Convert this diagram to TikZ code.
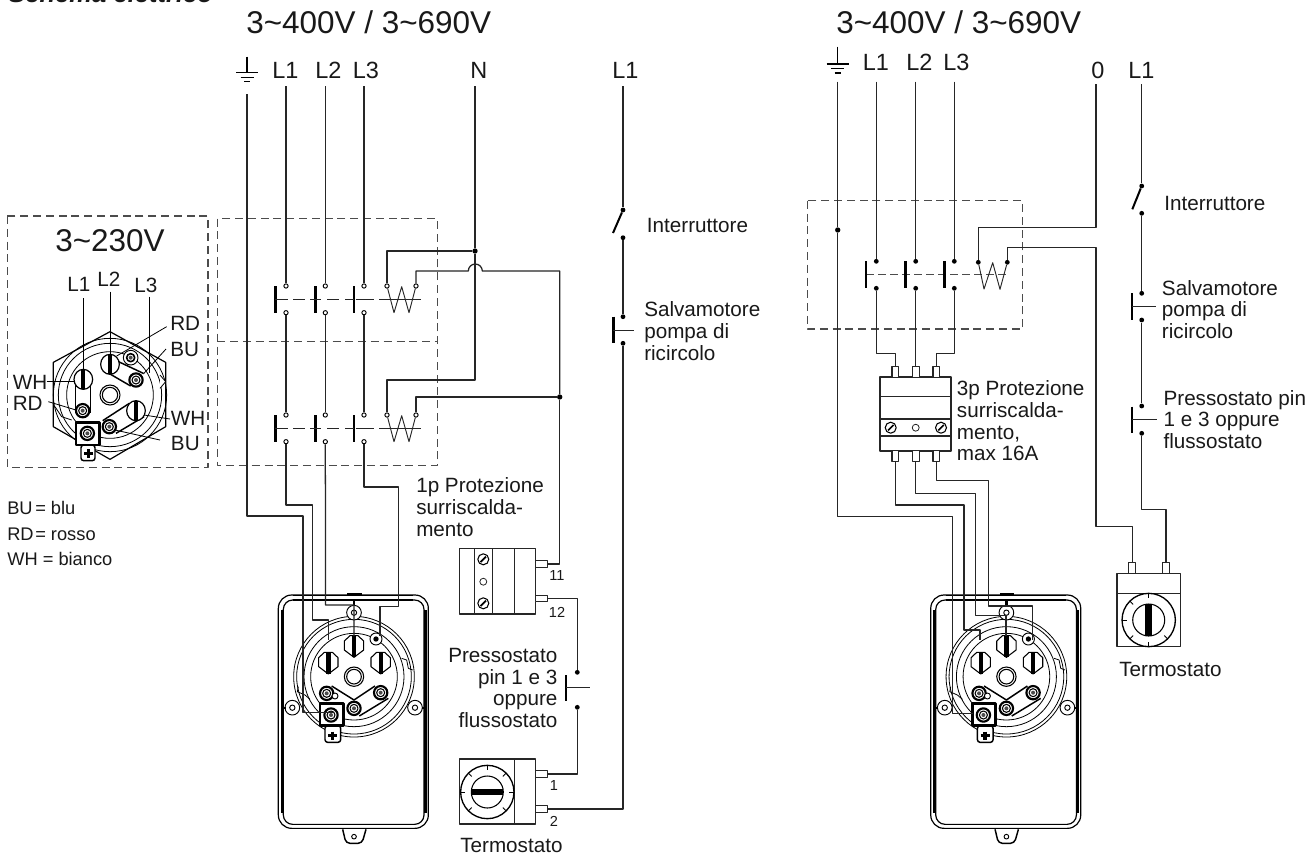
\documentclass[tikz,border=0pt]{standalone}
\usepackage{fontspec}
\setmainfont{Liberation Sans}
\tikzset{
  wire/.style={line width=.95pt,draw=black!85},
  thin wire/.style={line width=.7pt,draw=black!85},
  dashbox/.style={line width=.9pt,draw=black!70,dash pattern=on 6pt off 3.6pt},
  bar/.style={line width=1.8pt,draw=black},
  ring/.style={circle,draw=black,line width=.7pt,fill=white,inner sep=0,minimum size=3.2pt},
  sdot/.style={circle,fill=black,inner sep=0,minimum size=3.6pt},
  jdot/.style={circle,fill=black,inner sep=0,minimum size=4pt},
  lab/.style={font=\fontsize{15.5pt}{16.2pt}\selectfont,inner sep=0,text=black!90},
  big/.style={font=\fontsize{23.6pt}{26pt}\selectfont,inner sep=0,text=black!90},
  mid/.style={font=\fontsize{17.6pt}{20pt}\selectfont,inner sep=0,text=black!90},
  small/.style={font=\fontsize{10.9pt}{12pt}\selectfont,inner sep=0,text=black!90},
  leg/.style={font=\fontsize{13.7pt}{16pt}\selectfont,inner sep=0,text=black!90},
  ln/.style={line width=.6pt,draw=black},
  box/.style={line width=.9pt,draw=black!85,fill=white},
}
% earth symbol: stem top, wide line
\newcommand\earthsym[3]{% x, ytop, ywide
  \draw[line width=.8pt] (#1,#2) -- (#1,#3);
  \draw[line width=.8pt] (#1-11,#3) -- (#1+11,#3);
  \draw[line width=.8pt] (#1-6.5,#3+4.5) -- (#1+6.5,#3+4.5);
  \draw[line width=.8pt] (#1-3,#3+9) -- (#1+3,#3+9);
}
\newcommand\flatscrew[3]{% x y rotation-less slotted screw (px)
  \draw[line width=.8pt,fill=white] (#1,#2) circle[radius=#3];
  \draw[line width=1.2pt] (#1-#3*.5,#2+#3*.5) -- (#1+#3*.5,#2-#3*.5);
}
% row of three left-hand contacts with coil; names prefix#1, vertical shift #2
\newcommand\contactrow[2]{%
 \begin{scope}[shift={(0,#2)}]
  \node[ring] (#1a) at (286,286) {};
  \node[ring] (#1A) at (286,312.7) {};
  \node[ring] (#1b) at (325.3,286) {};
  \node[ring] (#1B) at (325.3,312.7) {};
  \node[ring] (#1c) at (364,286) {};
  \node[ring] (#1C) at (364,312.7) {};
  \node[ring] (#1d) at (387,286) {};
  \node[ring] (#1e) at (416,286) {};
  \draw[bar] (275.3,286) -- (275.3,312.7);
  \draw[bar] (315.3,286) -- (315.3,312.7);
  \draw[bar] (354,286) -- (354,312.7);
  \draw[thin wire] (275.3,299.3) -- (287.7,299.3) (293.3,299.3) -- (305,299.3)
     (310,299.3) -- (321,299.3) (327.3,299.3) -- (339,299.3)
     (345,299.3) -- (354,299.3) (355.7,299.3) -- (374,299.3) (379.3,299.3) -- (420.7,299.3);
  \draw[thin wire] (#1d) -- (394,312.7) -- (401.7,286.7) -- (409,312.7) -- (#1e);
 \end{scope}
}
% dial
\newcommand\dial[4]{% name x y ticks
  \node[circle,draw=black,line width=1pt,inner sep=0,minimum size=40pt] (#1) at (#2,#3) {};
  \draw[line width=.8pt] (#2,#3) circle[radius=16];
  \foreach \a in {#4} \draw[line width=.7pt] ([shift={(\a:27)}]#2,#3) -- ([shift={(\a:22)}]#2,#3);
}
% motor housing, in zoom units
\newcommand\bigterm[2]{%
 \begin{scope}[shift={(#1,#2)}]
  \draw[line width=.8pt,fill=white] (-29,-15) -- (-12,-31) -- (12,-31) -- (29,-15) -- (29,12) -- (0,34) -- (-29,12) -- cycle;
  \fill[black] (-6.5,-31) rectangle (6.5,33);
 \end{scope}
}
\newcommand\stud[2]{%
  \draw[line width=1.6pt,fill=white] (#1,#2) circle[radius=20];
  \draw[line width=.8pt,fill=white] (#1,#2) circle[radius=12];
  \fill[black!70] (#1,#2) circle[radius=6];
}
\newcommand\motor{%
  \draw[line width=.9pt,rounded corners=10pt] (55,105) rectangle (505,805);
  \draw[line width=.9pt,rounded corners=7pt] (70,120) rectangle (492,793);
  \draw[line width=1.8pt] (66,150) -- (66,760) (497,150) -- (497,760);
  \draw[line width=1.2pt] (100,106) -- (460,106) (100,120) -- (460,120) (100,793) -- (460,793) (100,805) -- (460,805);
  \draw[line width=2pt] (262,102) -- (305,102);
  \draw[line width=2pt] (282,120) -- (282,140);
  \foreach \r in {181,172,150,130} \draw[line width=.6pt] (282,350) circle[radius=\r];
  \draw[line width=.6pt] (115,380) -- (112,395) -- (135,405) -- (150,418);
  \draw[line width=.6pt] (425,295) -- (440,300) -- (445,325) -- (458,330);
  \foreach \p in {(282,158),(97,443),(465,443)} {
    \draw[line width=.7pt,fill=white] \p circle[radius=22];
    \draw[line width=.7pt,fill=white] \p circle[radius=8];
  }
  \draw[line width=1.6pt] (72,443) -- (78,443) (487,443) -- (497,443);
  \draw[line width=.8pt] (282,350) circle[radius=29];
  \draw[line width=.8pt] (282,350) circle[radius=22];
  \bigterm{205}{308}\bigterm{282}{258}\bigterm{362}{308}
  \draw[line width=.7pt,fill=white] (348,237) circle[radius=18];
  \fill[black] (348,237) circle[radius=8];
  \stud{200}{400}\stud{362}{398}
  \draw[line width=.7pt,fill=white] (225,408) circle[radius=9];
  \draw[line width=1.1pt] (215,378) -- (282,420) -- (345,378);
  \draw[line width=1.1pt] (298,468) -- (385,415);
  \stud{282}{445}
  \draw[line width=1.1pt,fill=white,rounded corners=2pt] (195,497) rectangle (242,547);
  \draw[line width=2pt,fill=white] (180,430) rectangle (250,497);
  \stud{213}{465}
  \draw[line width=2.4pt] (218,515) -- (218,541);
  \draw[line width=2.4pt] (205,527) -- (232,527);
  \draw[line width=1.1pt,rounded corners=3pt] (248,808) -- (258,850) -- (306,850) -- (318,808);
  \draw[line width=.7pt] (282,830) circle[radius=7];
}
\begin{document}
\begin{tikzpicture}[x=.75pt,y=-.75pt,line join=round]
\useasboundingbox (0,0) rectangle (1312,854);
\fill[white] (0,0) rectangle (1312,854);
% ---------- titles
\node[lab,anchor=base west,font=\fontsize{19.2pt}{20pt}\selectfont\bfseries\itshape] (schema) at (8,2.5) {Schema elettrico};
\node[big,anchor=base west] (t1) at (246,33) {3\char`~400V / 3\char`~690V};
\node[big,anchor=base west] (t2) at (836,33) {3\char`~400V / 3\char`~690V};
% ---------- left: inset
\draw[dashbox] (7.3,216) rectangle (208,467.3);
\node[big,anchor=base west] (t3) at (55,251.7) {3\char`~230V};
\begin{scope}[shift={(0,200)},x=.25pt,y=-.25pt]
  \draw[line width=.9pt] (330,395) -- (497,487) -- (497,680) -- (330,778) -- (160,680) -- (160,487) -- cycle;
  \foreach \r in {170,155,130} \draw[line width=.6pt] (330,585) circle[radius=\r];
  \draw[line width=.8pt] (330,585) circle[radius=30];
  \draw[line width=.8pt] (330,585) circle[radius=23];
  \draw[line width=.6pt,fill=white] (480,525) -- (497,545) -- (480,565);
  \draw[line width=.6pt] (165,620) -- (185,650) -- (215,660);
  \draw[line width=.7pt,fill=white] (392,473) circle[radius=22];
  \draw[line width=1.2pt,fill=white] (392,473) circle[radius=12];
  \fill[black!70] (392,473) circle[radius=6];
  % links
  \draw[line width=1.1pt] (226,545) -- (226,640) (272,545) -- (272,640);
  \draw[line width=1.1pt] (345,480) -- (430,520) (318,515) -- (392,558);
  \draw[line width=1.1pt] (388,610) -- (308,662) (432,650) -- (348,700);
  \foreach \p in {(250,538),(330,493),(408,632)} {
    \draw[line width=.9pt,fill=white] \p ellipse[x radius=28,y radius=30];
  }
  \fill[black] (244,508) rectangle (256,568);
  \fill[black] (324,463) rectangle (336,523);
  \fill[black] (402,602) rectangle (414,662);
  \stud{248}{632}\stud{408}{540}\stud{328}{680}
  \draw[line width=1.1pt,fill=white,rounded corners=2pt] (243,735) rectangle (285,782);
  \draw[line width=2pt,fill=white] (228,668) rectangle (298,735);
  \stud{262}{700}
  \draw[line width=2.4pt] (266,748) -- (266,775);
  \draw[line width=2.4pt] (252,760) -- (280,760);
  \coordinate (il1) at (250,295); \coordinate (il1e) at (250,510);
  \coordinate (il2) at (330,275); \coordinate (il2e) at (330,465);
  \coordinate (il3) at (448,290); \coordinate (il3e) at (448,518);
  \draw[ln] (il1) -- (il1e) (il2) -- (il2e) (il3) -- (il3e);
  \draw[ln] (500,380) -- (350,468);
  \draw[ln] (498,447) -- (430,522);
  \draw[ln] (140,545) -- (226,545);
  \draw[ln] (145,605) -- (228,630);
  \draw[ln] (510,657) -- (432,645);
  \draw[ln] (480,720) -- (345,690);
\end{scope}
\node[lab,anchor=base west] (iL1) at (67,291.7) {L1};
\node[lab,anchor=base west] (iL2) at (97,286) {L2};
\node[lab,anchor=base west] (iL3) at (134,292.3) {L3};
\node[lab,anchor=base west] (iRD1) at (170,330.7) {RD};
\node[lab,anchor=base west] (iBU1) at (170,356.7) {BU};
\node[lab,anchor=base west] (iWH1) at (12.5,389) {WH};
\node[lab,anchor=base west] (iRD2) at (12.5,410) {RD};
\node[lab,anchor=base west] (iWH2) at (170.7,425.7) {WH};
\node[lab,anchor=base west] (iBU2) at (170.7,450.7) {BU};
% legend
\node[leg,anchor=base west] (lg1) at (7,514) {BU};
\node[leg,anchor=base west] (lg1b) at (35,514) {= blu};
\node[leg,anchor=base west] (lg2) at (7,540) {RD};
\node[leg,anchor=base west] (lg2b) at (35,540) {= rosso};
\node[leg,anchor=base west] (lg3) at (7,565) {WH = bianco};
% ---------- left: supply
\earthsym{247}{56.7}{72.7}
\node[mid,anchor=base west] (aL1) at (272,78) {L1};
\node[mid,anchor=base west] (aL2) at (315,78) {L2};
\node[mid,anchor=base west] (aL3) at (352.5,78) {L3};
\node[mid,anchor=base west] (aN) at (470,78) {N};
\node[mid,anchor=base west] (aL4) at (612,78) {L1};
\coordinate (lE) at (247,94); \coordinate (lL1) at (286,86); \coordinate (lL2) at (325.3,86);
\coordinate (lL3) at (364,86); \coordinate (lN) at (475,86); \coordinate (lS) at (623,86);
\draw[dashbox] (217.3,218.5) rectangle (437.3,465.7);
\draw[dashbox] (217.3,341.7) -- (437.3,341.7);
% motor
\begin{scope}[shift={(260,560)},x=.25pt,y=-.25pt]\motor\end{scope}
\contactrow{u}{0}
\contactrow{v}{129}
\draw[wire] (lL1) -- (ua); \draw[wire] (lL2) -- (ub); \draw[wire] (lL3) -- (uc);
\draw[wire] (uA) -- (va); \draw[wire] (uB) -- (vb); \draw[wire] (uC) -- (vc);
\node[jdot] (Nj) at (475,251) {};
\node[jdot] (Hj) at (559.7,397) {};
\draw[wire] (lN) -- (Nj) -- (475,380) -- (387,380) -- (vd);
\draw[wire] (Nj) -- (387,251) -- (ud);
\draw[wire] (ue) -- (416,271) -- (468.3,271) arc[start angle=180,end angle=360,radius=7] -- (559.7,271) -- (Hj);
\draw[wire] (Hj) -- (416,397) -- (ve);
% thermal 1p
\draw[box] (459.3,548.3) rectangle (535.3,614);
\draw[line width=.9pt,draw=black!85] (474.7,548.3) -- (474.7,614) (492.3,548.3) -- (492.3,614) (514.7,548.3) -- (514.7,614);
\flatscrew{483.3}{559.3}{5.5}
\flatscrew{483.3}{603.3}{5.5}
\node[circle,draw=black!85,line width=.6pt,inner sep=0,minimum size=5.2pt] (h1) at (483.3,581.7) {};
\node[box,line width=.7pt,rectangle,inner sep=0,minimum width=9pt,minimum height=5pt] (p11) at (541.3,564) {};
\node[box,line width=.7pt,rectangle,inner sep=0,minimum width=9pt,minimum height=5pt] (p12) at (541.3,598.5) {};
\node[small,anchor=base] (n11) at (557,580.5) {11};
\node[small,anchor=base] (n12) at (557,617.5) {12};
\draw[wire] (Hj) -- (559.7,564) -- (p11);
% pressure switch
\node[sdot] (pa) at (577.3,672.3) {};
\node[sdot] (pb) at (577.3,707.3) {};
\draw[bar] (565.7,675) -- (565.7,700.7);
\draw[thin wire] (565.7,687.7) -- (590,687.7);
\draw[wire] (p12) -- (577.3,598.5) -- (pa);
% thermostat
\draw[box] (459.3,759) rectangle (535.3,824);
\draw[line width=.9pt,draw=black!85] (514.7,759) -- (514.7,824);
\dial{dl}{487.3}{792}{270,225,315,0,180,135,45}
\fill[black] (471.7,788.7) rectangle (502.7,795.4);
\node[box,line width=.7pt,rectangle,inner sep=0,minimum width=9pt,minimum height=5pt] (t1p) at (541.3,774) {};
\node[box,line width=.7pt,rectangle,inner sep=0,minimum width=9pt,minimum height=5pt] (t2p) at (541.3,809) {};
\node[small,anchor=base] (tn1) at (554,790.5) {1};
\node[small,anchor=base] (tn2) at (554,826) {2};
\draw[wire] (pb) -- (577.3,774) -- (t1p);
% motor switch column
\node[sdot] (sa) at (623,210) {};
\node[sdot] (sb) at (623,237.7) {};
\node[sdot] (sc) at (623,316.7) {};
\node[sdot] (sd) at (623,343.3) {};
\draw[wire] (lS) -- (sa);
\draw[bar,line width=1.5pt] (sa) -- (613,233);
\draw[wire] (sb) -- (sc);
\draw[bar] (613.3,316.7) -- (613.3,343.3);
\draw[thin wire] (613.3,330) -- (634,330);
\draw[wire] (sd) -- (623,809) -- (t2p);
% earth & phases to motor
\draw[wire] (lE) -- (247,516) -- (303,516) -- (303,712.7) -- (333,712.7);
\draw[wire] (vA) -- (286,505) -- (312.2,505) -- (312.2,620) -- (328.3,620) -- (328.3,640);
\draw[wire] (vB) -- (325.6,605) -- (354,605) -- (354,636);
\draw[wire] (vC) -- (364,487) -- (398.7,487) -- (398.7,606.7) -- (380,606.7) -- (380,636);
% left labels
\node[lab,anchor=base west] (lb1) at (646.7,232) {Interruttore};
\node[lab,anchor=base west,align=left] (lb2) at (644,360) {Salvamotore\\pompa di\\ricircolo};
\node[lab,anchor=base west,align=left] (lb3) at (416,536) {1p Protezione\\surriscalda-\\mento};
\node[lab,anchor=base east,align=right] (lb4) at (557.7,727.3) {Pressostato\\pin 1 e 3\\oppure\\flussostato};
\node[lab,anchor=base west] (lb5) at (460,852) {Termostato};
% ---------- right: supply
\earthsym{837.5}{46.7}{64}
\node[mid,anchor=base west] (bL1) at (862.5,70) {L1};
\node[mid,anchor=base west] (bL2) at (906,70) {L2};
\node[mid,anchor=base west] (bL3) at (943,70) {L3};
\node[mid,anchor=base west] (b0) at (1091,78.3) {0};
\node[mid,anchor=base west] (bL4) at (1128,78.3) {L1};
\coordinate (rE) at (837.7,81.7); \coordinate (rL1) at (876.3,81.7); \coordinate (rL2) at (915.7,81.7);
\coordinate (rL3) at (954.3,81.7); \coordinate (r0) at (1096,84); \coordinate (rS) at (1141.7,84);
\draw[dashbox] (807.3,200.7) rectangle (1022.7,329);
\begin{scope}[shift={(912.4,560)},x=.25pt,y=-.25pt]\motor\end{scope}
\draw[line width=.9pt,draw=black!70,dash pattern=on 6pt off 3pt] (866,274.7) -- (1008.3,274.7);
\foreach \n/\x in {a/876.3,b/915.7,c/954.3} {
  \node[sdot] (r\n) at (\x,261.3) {};
  \node[sdot] (R\n) at (\x,288.3) {};
}
\node[sdot] (rd) at (978.3,262.3) {};
\node[sdot] (re) at (1007.3,262.3) {};
\foreach \x in {866,905.3,944.3} \draw[bar] (\x,261.3) -- (\x,288.3);
\draw[thin wire] (rd) -- (984,289) -- (992.7,262.7) -- (1000,289.3) -- (re);
\draw[wire] (rL1) -- (ra); \draw[wire] (rL2) -- (rb); \draw[wire] (rL3) -- (rc);
\node[jdot] (Ej) at (837.7,230) {};
\draw[wire] (r0) -- (1096,227.7) -- (978.3,227.7) -- (rd);
\draw[wire] (re) -- (1007.3,247.3) -- (1096,247.3) -- (1096,526.7) -- (1132.7,526.7) -- (1132.7,562.3);
% 3p protection
\draw[box,line width=1.3pt] (880.3,377.3) rectangle (951,450.7);
\draw[line width=1.1pt,draw=black!85] (880.3,396.7) -- (951,396.7) (880.3,436) -- (951,436);
\draw[line width=1.5pt,draw=black!85] (880.3,419) -- (951,419);
\flatscrew{890.7}{427.7}{5.5}
\flatscrew{941}{427.7}{5.5}
\node[circle,draw=black!85,line width=.6pt,inner sep=0,minimum size=5.2pt] (h3) at (915.7,427.7) {};
\foreach \n/\x in {a/895.3,b/915.7,c/936.3} {
  \node[box,line width=.8pt,rectangle,inner sep=0,minimum width=5pt,minimum height=8.2pt] (pu\n) at (\x,372) {};
  \node[box,line width=.8pt,rectangle,inner sep=0,minimum width=5pt,minimum height=8.2pt] (pl\n) at (\x,456.2) {};
}
\draw[wire] (Ra) -- (876.3,353.3) -- (895.3,353.3) -- (pua);
\draw[wire] (Rb) -- (pub);
\draw[wire] (Rc) -- (954.3,353.3) -- (936.3,353.3) -- (puc);
\draw[wire] (rE) -- (Ej) -- (837.7,516.3) -- (952.7,516.3) -- (952.7,713.3) -- (973,713.3);
\draw[wire] (pla) -- (895.3,505) -- (964,505) -- (964,630) -- (980,630) -- (980,640);
\draw[wire] (plb) -- (915.7,493.3) -- (975.7,493.3) -- (975.7,615.7) -- (1006,615.7) -- (1006,636);
\draw[wire] (plc) -- (936.3,480.7) -- (988.7,480.7) -- (988.7,606) -- (1032.7,606) -- (1032.7,640);
% switch column
\node[sdot] (qa) at (1141.7,186) {};
\node[sdot] (qb) at (1141.7,213.3) {};
\node[sdot] (qc) at (1141.7,293.3) {};
\node[sdot] (qd) at (1141.7,320) {};
\node[sdot] (qe) at (1141.7,406) {};
\node[sdot] (qf) at (1141.7,433.3) {};
\draw[wire] (rS) -- (qa);
\draw[bar,line width=1.5pt] (qa) -- (1132.3,209.3);
\draw[wire] (qb) -- (qc);
\draw[bar] (1131.7,293.3) -- (1131.7,320);
\draw[thin wire] (1131.7,306.7) -- (1156,306.7);
\draw[wire] (qd) -- (qe);
\draw[bar] (1131.7,406.7) -- (1131.7,433);
\draw[thin wire] (1131.7,419.3) -- (1156.7,419.3);
% thermostat right
\draw[box] (1117,573.3) rectangle (1180.7,646.7);
\draw[line width=.9pt,draw=black!85] (1117,593.3) -- (1180.7,593.3);
\dial{dr}{1148.7}{620}{270,90,180,225,135,45}
\fill[black] (1145.3,604.3) rectangle (1152,635.7);
\node[box,line width=.7pt,rectangle,inner sep=0,minimum width=5pt,minimum height=8.2pt] (qt1) at (1132.2,567.8) {};
\node[box,line width=.7pt,rectangle,inner sep=0,minimum width=5pt,minimum height=8.2pt] (qt2) at (1166,567.8) {};
\draw[wire] (qf) -- (1141.7,509.3) -- (1166,509.3) -- (qt2);
% right labels
\node[lab,anchor=base west] (lc1) at (1164,210.7) {Interruttore};
\node[lab,anchor=base west,align=left] (lc2) at (1161.7,338.3) {Salvamotore\\pompa di\\ricircolo};
\node[lab,anchor=base west,align=left] (lc3) at (1163.3,448.3) {Pressostato pin\\1 e 3 oppure\\flussostato};
\node[lab,anchor=base west,align=left] (lc4) at (956.7,460.7) {3p Protezione\\surriscalda-\\mento,\\max 16A};
\node[lab,anchor=base west] (lc5) at (1119,676.7) {Termostato};
\end{tikzpicture}
\end{document}
